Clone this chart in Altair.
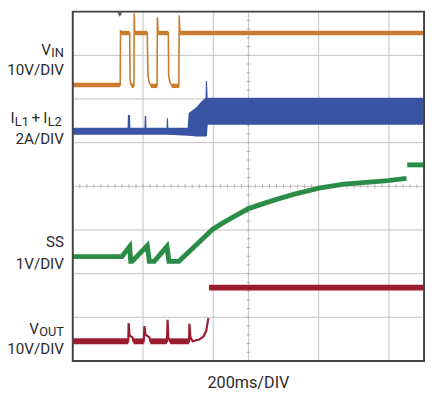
import altair as alt
import pandas as pd

# ---- trace data, in screen divisions (x: 0-10 time divs, y: 0-8 vertical divs) ----
vin_t = [0, 1.35, 1.36, 1.37, 1.62, 1.63, 1.65, 1.68, 1.74, 1.75, 1.76, 2.12, 2.14, 2.17, 2.23,
         2.40, 2.41, 2.43, 2.72, 2.73, 2.77, 2.82, 3.02, 3.03, 3.05, 10]
vin_y = [6.32, 6.32, 7.58, 7.51, 7.51, 6.46, 6.35, 6.30, 6.30, 7.96, 7.51, 7.51, 6.57, 6.39, 6.30,
         6.30, 7.87, 7.51, 7.51, 6.53, 6.37, 6.30, 6.30, 7.91, 7.51, 7.51]

il_t = [0, 1.56, 1.57, 1.63, 1.64, 2.04, 2.05, 2.09, 2.10, 2.67, 2.68, 2.71, 2.72, 3.27, 3.30,
        3.52, 3.66, 3.78, 3.79, 3.82, 3.84, 10]
il_top = [5.34, 5.34, 5.63, 5.63, 5.34, 5.34, 5.61, 5.61, 5.34, 5.34, 5.56, 5.56, 5.34, 5.34, 5.68,
          5.81, 5.94, 6.03, 6.41, 6.41, 6.03, 6.03]
il_bot = [5.18, 5.18, 5.18, 5.18, 5.18, 5.18, 5.18, 5.18, 5.18, 5.18, 5.18, 5.18, 5.18, 5.16, 5.16,
          5.14, 5.14, 5.14, 5.14, 5.16, 5.41, 5.41]

ss_t = [0, 1.40, 1.62, 1.65, 1.69, 2.12, 2.18, 2.32, 2.68, 2.74, 3.02, 3.52, 3.99, 4.36, 5.0,
        5.75, 6.31, 7.01, 7.71, 8.35, 8.97, 9.50, 9.52, 10]
ss_y = [2.39, 2.39, 2.62, 2.28, 2.28, 2.64, 2.28, 2.28, 2.62, 2.28, 2.28, 2.66, 3.02, 3.20, 3.49,
        3.69, 3.82, 3.96, 4.05, 4.09, 4.13, 4.18, 4.49, 4.49]
ss_seg = [0] * 22 + [1, 1]

vout_t = [0, 1.58, 1.59, 1.62, 1.70, 1.73, 2.02, 2.04, 2.07, 2.18, 2.21, 2.68, 2.70, 2.72, 2.77,
          3.31, 3.32, 3.35, 3.41, 3.60, 3.72, 3.80, 3.86, 3.88, 10]
vout_y = [0.45, 0.45, 0.87, 0.58, 0.54, 0.45, 0.45, 0.80, 0.60, 0.54, 0.45, 0.45, 0.94, 0.54, 0.45,
          0.45, 0.85, 0.54, 0.45, 0.49, 0.56, 0.69, 0.98, 1.68, 1.68]
vout_seg = [0] * 23 + [1, 1]

grid_x = [2, 4, 5, 7, 9]
grid_y = [1, 2, 3, 4, 5, 6, 7]
trigger_t = [1.34]

# ---- colours ----
C_VIN = "#C97B2F"
C_IL = "#3A54A4"
C_SS = "#2A8C46"
C_VOUT = "#9B1B30"
C_TEXT = "#2b2b2b"
FONT = "Roboto"

xs = alt.Scale(domain=[0, 10], nice=False, zero=False)
ys = alt.Scale(domain=[0, 8], nice=False, zero=False)
X = lambda f: alt.X(f, type="quantitative", scale=xs, axis=None)
Y = lambda f: alt.Y(f, type="quantitative", scale=ys, axis=None)


def path_df(t, y, seg=None):
    return pd.DataFrame({"t": t, "y": y, "i": list(range(len(t))),
                         "seg": seg if seg is not None else [0] * len(t)})


def levels_df(t, y, seg=None):
    seg = seg if seg is not None else [0] * len(t)
    rows = []
    for k in range(len(t) - 1):
        if seg[k] == seg[k + 1] and abs(y[k] - y[k + 1]) < 0.02:
            rows.append({"t": t[k], "t2": t[k + 1], "y": y[k]})
    return pd.DataFrame(rows)


vin = path_df(vin_t, vin_y)
ss = path_df(ss_t, ss_y, ss_seg)
vout = path_df(vout_t, vout_y, vout_seg)
il = pd.DataFrame({"t": il_t, "top": il_top, "bot": il_bot})

grid_v = alt.Chart(pd.DataFrame({"t": grid_x})).mark_rule(color="#c2c2c2", strokeWidth=1).encode(x=X("t"))
grid_h = alt.Chart(pd.DataFrame({"y": grid_y})).mark_rule(color="#c2c2c2", strokeWidth=1).encode(y=Y("y"))

minor_t = [round(0.2 * k, 2) for k in range(1, 50)]
minor_h = alt.Chart(pd.DataFrame({"t": minor_t, "a": [3.955] * 49, "b": [4.045] * 49})).mark_rule(
    color="#b0b0b0", strokeWidth=1).encode(x=X("t"), y=Y("a"), y2="b")
minor_yv = [round(0.2 * k, 2) for k in range(1, 40)]
minor_v = alt.Chart(pd.DataFrame({"y": minor_yv, "a": [4.95] * 39, "b": [5.05] * 39})).mark_rule(
    color="#b0b0b0", strokeWidth=1).encode(y=Y("y"), x=X("a"), x2="b")

vin_thin = alt.Chart(vin).mark_line(color=C_VIN, strokeWidth=1.6).encode(
    x=X("t"), y=Y("y"), order="i:Q")
vin_lv = alt.Chart(levels_df(vin_t, vin_y)).mark_rule(color=C_VIN, strokeWidth=4.5, strokeCap="butt").encode(
    x=X("t"), x2="t2", y=Y("y"))

il_area = alt.Chart(il).mark_area(color=C_IL, opacity=1, line=False).encode(
    x=X("t"), y=Y("top"), y2="bot")

ss_line = alt.Chart(ss).mark_line(color=C_SS, strokeWidth=5).encode(
    x=X("t"), y=Y("y"), detail="seg:N", order="i:Q")

vout_thin = alt.Chart(vout).mark_line(color=C_VOUT, strokeWidth=2.2).encode(
    x=X("t"), y=Y("y"), detail="seg:N", order="i:Q")
vout_lv = alt.Chart(levels_df(vout_t, vout_y, vout_seg)).mark_rule(
    color=C_VOUT, strokeWidth=6, strokeCap="butt").encode(x=X("t"), x2="t2", y=Y("y"))

trig = alt.Chart(pd.DataFrame({"t": trigger_t, "y": [7.93]})).mark_point(
    shape="triangle-down", filled=True, size=25, color="#555", opacity=1).encode(x=X("t"), y=Y("y"))

frame = alt.Chart(pd.DataFrame({"a": [0], "b": [10], "c": [0], "d": [8]})).mark_rect(
    filled=False, stroke="#444", strokeWidth=2).encode(x=X("a"), x2="b", y=Y("c"), y2="d")

# ---- labels (pixel positions relative to plot origin) ----
right_labels = pd.DataFrame({
    "text": ["10V/DIV", "2A/DIV", "SS", "1V/DIV", "10V/DIV", "IN", "OUT", "V", "V"],
    "px": [-9, -9, -9, -9, -9, -9, -9, -22.3, -34.6],
    "py": [64.5, 134.5, 240, 262, 348.7, 46.5, 331, 43.7, 328.7],
    "fs": [15.5, 15.5, 15.5, 15.5, 15.5, 13, 13, 15.5, 15.5],
})
left_labels = pd.DataFrame({
    "text": ["I", "L1", "+", "I", "L2"],
    "px": [-63.5, -59, -42, -30, -25.5],
    "py": [114, 116.5, 114, 114, 116.5],
    "fs": [15.5, 13, 15.5, 15.5, 13],
})
center_labels = pd.DataFrame({"text": ["200ms/DIV"], "px": [179], "py": [384], "fs": [16.5]})


def text_layer(df, align):
    return alt.Chart(df).mark_text(align=align, baseline="alphabetic", font=FONT, color=C_TEXT).encode(
        x=alt.X("px:Q", scale=None, axis=None),
        y=alt.Y("py:Q", scale=None, axis=None),
        size=alt.Size("fs:Q", scale=None, legend=None),
        text="text:N",
    )


chart = alt.layer(
    grid_v, grid_h, minor_h, minor_v,
    vin_thin, vin_lv, il_area, ss_line, vout_thin, vout_lv, trig, frame,
    text_layer(right_labels, "right"), text_layer(left_labels, "left"), text_layer(center_labels, "center"),
).properties(
    width=358, height=356,
    autosize=alt.AutoSizeParams(type="none"),
    padding={"left": 66, "top": 0, "right": 3, "bottom": 31},
).configure_view(stroke=None).configure(background="white")

chart.save("out.html", embed_options={"renderer": "svg", "actions": False})
